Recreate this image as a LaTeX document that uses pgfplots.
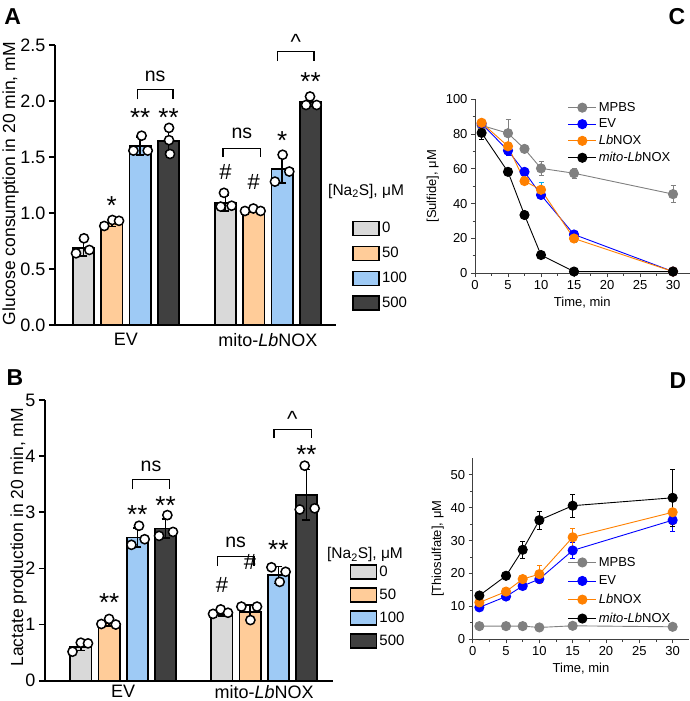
\documentclass[border=0pt]{standalone}
\usepackage{pgfplots}
\pgfplotsset{compat=1.18}
\usepackage{fontspec}
\setmainfont{Liberation Sans}
\definecolor{cg}{RGB}{217,217,217}
\definecolor{co}{RGB}{255,204,153}
\definecolor{cb}{RGB}{158,202,245}
\definecolor{cd}{RGB}{64,64,64}
\definecolor{lgray}{RGB}{128,128,128}
\definecolor{lblue}{RGB}{0,0,255}
\definecolor{lorange}{RGB}{255,128,0}
\newcommand{\fs}[1]{\fontsize{#1}{#1}\selectfont}
\pgfplotsset{
  barax/.style={
    scale only axis, axis lines=left,
    axis line style={-, line width=1.8pt},
    tick align=outside, major tick length=6pt,
    ytick style={line width=1.8pt, black},
    xtick={0,1}, xticklabels={EV, mito-\textit{Lb}NOX},
    x tick style={draw=none},
    tick label style={font=\fs{18}},
    /pgf/number format/assume math mode=true,
    clip=false,
    legend cell align=left,
    legend image code/.code={\draw[##1] (0pt,-7pt) rectangle (26pt,7pt);},
  },
  bar/.style={ybar, bar width=0.15, bar shift=0pt, draw=black, line width=1.8pt,
    error bars/y dir=both, error bars/y explicit,
    error bars/error bar style={line width=1.5pt, black},
    error bars/error mark options={rotate=90, mark size=4pt, line width=1.5pt, black}},
  pts/.style={only marks, mark=*, mark size=4.6pt, mark options={fill=white, draw=black, line width=1.5pt}, forget plot},
  brk/.style={black, line width=1.3pt, sharp plot, forget plot, mark=none},
  lineax/.style={
    scale only axis, axis lines=left,
    axis line style={-, line width=0.8pt, black!75},
    tick align=outside, major tick length=4pt, minor tick length=2.5pt,
    tick style={black!75, line width=0.8pt},
    xmin=0, xmax=32.5, xtick={0,5,...,30}, minor x tick num=1,
    tick label style={font=\fs{13}},
    /pgf/number format/assume math mode=true,
    label style={font=\fs{13}},
    xlabel={Time, min},
    clip=false,
    legend cell align=left,
    legend image code/.code={\draw[mark repeat=2,mark phase=2,##1] plot coordinates {(0pt,0pt) (14pt,0pt) (28pt,0pt)};},
  },
  ser/.style={mark=*, mark size=4.6pt, line width=0.9pt, color=#1, mark options={fill=#1, draw=#1},
    error bars/y dir=both, error bars/y explicit,
    error bars/error bar style={line width=0.8pt, #1},
    error bars/error mark options={rotate=90, mark size=2.5pt, line width=0.8pt, #1}},
}
\begin{document}
\begin{tikzpicture}
\useasboundingbox (0,0) rectangle (690pt,701pt);
% ---------------- Panel A ----------------
\begin{axis}[barax, at={(55pt,376pt)}, anchor=south west, width=281pt, height=280pt,
  xmin=-0.5, xmax=1.479, ymin=0, ymax=2.5, ytick={0,0.5,...,2.5},
  yticklabel style={/pgf/number format/fixed, /pgf/number format/fixed zerofill, /pgf/number format/precision=1},
  xticklabel style={inner sep=1pt, yshift=-1.3pt},
  ylabel={Glucose consumption in 20 min, mM},
  every axis y label/.style={at={(axis description cs:-0.158,0.505)}, rotate=90, anchor=center, font=\fs{17.5}},
  legend style={at={(axis description cs:1.057,0.374)}, anchor=north west, draw=none, fill=none, font=\fs{15}, row sep=9pt, inner sep=0pt}]
\addplot[bar, fill=cg] table[x=x,y=y,y error=e] {
x y e
-0.3 0.685 0.07
0.7 1.09 0.07
};
\addlegendentry{0}
\addplot[bar, fill=co] table[x=x,y=y,y error=e] {
x y e
-0.1 0.91 0.03
0.9 1.025 0.02
};
\addlegendentry{50}
\addplot[bar, fill=cb] table[x=x,y=y,y error=e] {
x y e
0.1 1.60 0.08
1.1 1.39 0.12
};
\addlegendentry{100}
\addplot[bar, fill=cd] table[x=x,y=y,y error=e] {
x y e
0.3 1.645 0.10
1.3 1.99 0.04
};
\addlegendentry{500}
\addplot[pts] coordinates {(-0.352,0.64) (-0.296,0.774) (-0.258,0.67)
 (-0.153,0.884) (-0.096,0.9375) (-0.049,0.93)
 (0.052,1.557) (0.11,1.69) (0.153,1.557)
 (0.303,1.76) (0.303,1.65) (0.31,1.527)
 (0.667,1.057) (0.69,1.18) (0.744,1.065)
 (0.838,1.018) (0.897,1.04) (0.948,1.018)
 (1.049,1.28) (1.103,1.52) (1.15,1.37)
 (1.268,1.964) (1.296,2.04) (1.343,1.964)};
\addplot[brk] coordinates {(0.08,2.015) (0.08,2.104) (0.33,2.104) (0.33,2.015)};
\addplot[brk] coordinates {(0.683,1.503) (0.683,1.577) (0.949,1.577) (0.949,1.503)};
\addplot[brk] coordinates {(1.066,2.357) (1.066,2.44) (1.324,2.44) (1.324,2.357)};
\begin{scope}[every node/.style={font=\fs{26}, anchor=base}]
\node at (axis cs:-0.1,0.984) {*};
\node at (axis cs:0.1,1.772) {**};
\node at (axis cs:0.3,1.772) {**};
\node at (axis cs:1.1,1.564) {*};
\node at (axis cs:1.3,2.091) {**};
\end{scope}
\begin{scope}[every node/.style={font=\fs{19.5}, anchor=base}]
\node at (axis cs:0.205,2.171) {ns};
\node at (axis cs:0.816,1.666) {ns};
\end{scope}
\begin{scope}[every node/.style={font=\fs{22}, anchor=base}]
\node at (axis cs:0.7,1.3) {\#};
\node at (axis cs:0.9,1.211) {\#};
\node at (axis cs:1.195,2.46) {\^{}};
\end{scope}
\node[anchor=west, inner sep=0pt, font=\fs{15.5}] at (axis description cs:0.9715,0.478) {[Na\textsubscript{2}S], μM};
\end{axis}
% ---------------- Panel B ----------------
\begin{axis}[barax, at={(45pt,20.3pt)}, anchor=south west, width=288pt, height=280.7pt,
  xmin=-0.555, xmax=1.488, ymin=0, ymax=5, ytick={0,1,...,5},
  xticklabel style={inner sep=1pt, yshift=2.7pt},
  ylabel={Lactate production in 20 min, mM},
  every axis y label/.style={at={(axis description cs:-0.092,0.511)}, rotate=90, anchor=center, font=\fs{17.5}},
  legend style={at={(axis description cs:1.057,0.417)}, anchor=north west, draw=none, fill=none, font=\fs{15}, row sep=7.2pt, inner sep=0pt}]
\addplot[bar, fill=cg] table[x=x,y=y,y error=e] {
x y e
-0.3 0.594 0.06
0.7 1.19 0.04
};
\addlegendentry{0}
\addplot[bar, fill=co] table[x=x,y=y,y error=e] {
x y e
-0.1 1.02 0.05
0.9 1.22 0.13
};
\addlegendentry{50}
\addplot[bar, fill=cb] table[x=x,y=y,y error=e] {
x y e
0.1 2.55 0.17
1.1 1.88 0.15
};
\addlegendentry{100}
\addplot[bar, fill=cd] table[x=x,y=y,y error=e] {
x y e
0.3 2.71 0.17
1.3 3.31 0.45
};
\addlegendentry{500}
\addplot[pts] coordinates {(-0.36,0.517) (-0.301,0.677) (-0.25,0.665)
 (-0.155,1.01) (-0.1,1.10) (-0.053,1.0)
 (0.058,2.42) (0.112,2.76) (0.152,2.52)
 (0.254,2.58) (0.313,2.95) (0.353,2.65)
 (0.637,1.19) (0.691,1.27) (0.743,1.21)
 (0.838,1.32) (0.902,1.08) (0.949,1.32)
 (1.051,2.02) (1.11,1.76) (1.152,1.94)
 (1.252,3.05) (1.287,3.83) (1.358,3.07)};
\addplot[brk] coordinates {(0.067,3.41) (0.067,3.587) (0.327,3.587) (0.327,3.41)};
\addplot[brk] coordinates {(0.667,2.04) (0.667,2.21) (0.927,2.21) (0.927,2.04)};
\addplot[brk] coordinates {(1.069,4.32) (1.069,4.48) (1.336,4.48) (1.336,4.32)};
\begin{scope}[every node/.style={font=\fs{26}, anchor=base}]
\node at (axis cs:-0.1,1.233) {**};
\node at (axis cs:0.1,2.807) {**};
\node at (axis cs:0.3,2.955) {**};
\node at (axis cs:1.1,2.171) {**};
\node at (axis cs:1.3,3.876) {**};
\end{scope}
\begin{scope}[every node/.style={font=\fs{19.5}, anchor=base}]
\node at (axis cs:0.197,3.734) {ns};
\node at (axis cs:0.797,2.367) {ns};
\end{scope}
\begin{scope}[every node/.style={font=\fs{22}, anchor=base}]
\node at (axis cs:0.7,1.567) {\#};
\node at (axis cs:0.9,1.982) {\#};
\node at (axis cs:1.2,4.533) {\^{}};
\end{scope}
\node[anchor=west, inner sep=0pt, font=\fs{15.5}] at (axis description cs:0.979,0.449) {[Na\textsubscript{2}S], μM};
\end{axis}
% ---------------- Panel C ----------------
\begin{axis}[lineax, at={(475pt,427.7pt)}, anchor=south west, width=214.5pt, height=174pt,
  ymin=0, ymax=100, ytick={0,20,...,100}, minor y tick num=1,
  ylabel={[Sulfide], μM},
  legend style={at={(axis description cs:0.432,0.995)}, anchor=north west, draw=none, fill=none, font=\fs{13}, row sep=2pt, inner sep=0pt}]
\addplot[ser=lgray] table[x=x,y=y,y error=e] {
x y e
1 85 3.5
5 80.5 8
7.5 71.5 1.5
10 60.3 4
15 57.5 3
30 45.5 5
};
\addlegendentry{MPBS}
\addplot[ser=lblue] table[x=x,y=y,y error=e] {
x y e
1 86 2
5 70.5 2.5
7.5 58.3 2
10 45 2
15 22.3 2
30 1 0.5
};
\addlegendentry{EV}
\addplot[ser=lorange, error bars/error bar style={cyan}, error bars/error mark options={rotate=90, mark size=2.5pt, line width=0.8pt, cyan}] table[x=x,y=y,y error=e] {
x y e
1 86.5 2
5 73 2
7.5 53 1.5
10 48 4.5
15 20 2.5
30 1 0.5
};
\addlegendentry{\textit{Lb}NOX}
\addplot[ser=black] table[x=x,y=y,y error=e] {
x y e
1 80.7 3.5
5 58.3 1
7.5 33.5 1
10 10.5 1
15 1 0.5
30 1 0.5
};
\addlegendentry{\textit{mito-Lb}NOX}
\end{axis}
% ---------------- Panel D ----------------
\begin{axis}[lineax, at={(472.7pt,61.7pt)}, anchor=south west, width=216.6pt, height=181pt,
  ymin=0, ymax=55, ytick={0,10,...,50}, minor y tick num=1,
  ylabel={[Thiosulfate], μM},
  legend style={at={(axis description cs:0.4386,0.466)}, anchor=north west, draw=none, fill=none, font=\fs{13}, row sep=4pt, inner sep=0pt}]
\addplot[ser=lgray] table[x=x,y=y,y error=e] {
x y e
1 4 0.5
5 4 0.5
7.5 4 0.5
10 3.6 0.5
15 4.1 0.5
30 3.8 0.5
};
\addlegendentry{MPBS}
\addplot[ser=lblue] table[x=x,y=y,y error=e] {
x y e
1 9.7 0.8
5 13 0.8
7.5 16.2 1
10 18.3 1.3
15 27 2.5
30 36.2 3.5
};
\addlegendentry{EV}
\addplot[ser=lorange] table[x=x,y=y,y error=e] {
x y e
1 11.2 1
5 14.5 1
7.5 18.3 1
10 19.8 2.7
15 31 2.8
30 38.6 3.8
};
\addlegendentry{\textit{Lb}NOX}
\addplot[ser=black] table[x=x,y=y,y error=e] {
x y e
1 13.3 1
5 19.3 0.8
7.5 27.2 2.6
10 36.2 2.7
15 40.6 3.5
30 43 8.7
};
\addlegendentry{\textit{mito-Lb}NOX}
\end{axis}
% panel letters
\node[font=\fs{23}\bfseries] at (12.8pt,684.3pt) {A};
\node[font=\fs{23}\bfseries] at (15pt,323.5pt) {B};
\node[font=\fs{23}\bfseries] at (677pt,684pt) {C};
\node[font=\fs{23}\bfseries] at (678pt,320pt) {D};
\end{tikzpicture}
\end{document}
